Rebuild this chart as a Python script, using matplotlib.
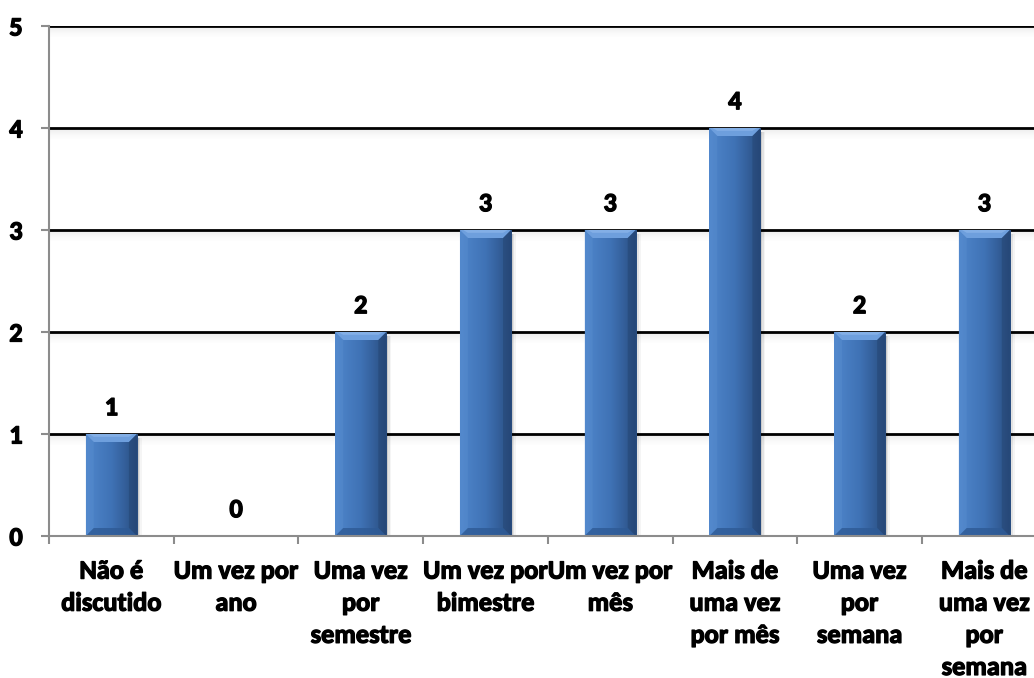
import numpy as np
import matplotlib
matplotlib.use("Agg")
import matplotlib.pyplot as plt
from matplotlib import font_manager
from matplotlib import patheffects
from matplotlib.patches import Polygon
from matplotlib.colors import to_rgb

categories = [
    "Não é\ndiscutido",
    "Um vez por\nano",
    "Uma vez\npor\nsemestre",
    "Um vez por\nbimestre",
    "Um vez por\nmês",
    "Mais de\numa vez\npor mês",
    "Uma vez\npor\nsemana",
    "Mais de\numa vez\npor\nsemana",
]
counts = [1, 0, 2, 3, 3, 4, 2, 3]
y_ticks = [0, 1, 2, 3, 4, 5]

available = {f.name for f in font_manager.fontManager.ttflist}
family = next((f for f in ["Carlito", "PT Sans Narrow", "Open Sans", "DejaVu Sans"]
               if f in available), "DejaVu Sans")
plt.rcParams["font.family"] = [family, "DejaVu Sans"]
FS = 19
heavy = [patheffects.withStroke(linewidth=0.9, foreground="black")]

W, H, DPI = 1034, 678, 100
fig = plt.figure(figsize=(W / DPI, H / DPI), dpi=DPI)
left_px, top_px, bottom_px, cat_px = 49, 26, 536, 124.7
n = len(categories)
ax = fig.add_axes([left_px / W, 1 - bottom_px / H,
                   n * cat_px / W, (bottom_px - top_px) / H])
ax.set_xlim(0, n)
ax.set_ylim(0, 5)
ax.set_facecolor("white")

# gridlines with a soft shadow underneath
shade = np.linspace(0.22, 0.0, 40) ** 1.3
for yv in y_ticks[1:]:
    img = np.zeros((40, 2, 4))
    img[..., :3] = 0.45
    img[..., 3] = shade[:, None]
    ax.imshow(img, extent=(0, n, yv - 0.12, yv - 0.01), aspect="auto",
              origin="upper", zorder=1, interpolation="bilinear")
    ax.axhline(yv, color="black", lw=2.0, zorder=2)

# bars with horizontal gradient and bevelled edges
bar_w = 0.41
bx = np.arange(n) + 0.5
bars = ax.bar(bx, counts, width=bar_w, color="#3F72B5", zorder=3, linewidth=0)

c_left = np.array(to_rgb("#4F86CB"))
c_mid = np.array(to_rgb("#3F72B5"))
c_right = np.array(to_rgb("#294D80"))
t = np.linspace(0, 1, 64)
grad = np.where(t[:, None] < 0.5,
                c_left + (c_mid - c_left) * (t[:, None] / 0.5),
                c_mid + (c_right - c_mid) * ((t[:, None] - 0.5) / 0.5))
grad_img = grad[None, :, :]

bev_x = 8 / cat_px
bev_y = 8 / 102
for rect, v in zip(bars, counts):
    if v <= 0:
        continue
    x0 = rect.get_x()
    x1 = x0 + rect.get_width()
    # drop shadow to the right
    for k, a in enumerate([0.10, 0.07, 0.04]):
        dx = (k + 1) * 1.6 / cat_px
        ax.add_patch(Polygon([[x0 + dx, 0], [x1 + dx, 0], [x1 + dx, v - 0.04],
                              [x0 + dx, v - 0.04]], closed=True,
                             facecolor="black", alpha=a, lw=0, zorder=2.5))
    im = ax.imshow(grad_img, extent=(x0, x1, 0, v), aspect="auto",
                   zorder=3.1, interpolation="bilinear")
    im.set_clip_path(rect)
    # top bevel
    ax.add_patch(Polygon([[x0, v], [x1, v], [x1 - bev_x, v - bev_y], [x0 + bev_x, v - bev_y]],
                         closed=True, facecolor="#6E9FDD", lw=0, zorder=3.2))
    ax.add_patch(Polygon([[x0 + bev_x * 0.4, v], [x1 - bev_x * 0.4, v],
                          [x1 - bev_x, v - bev_y * 0.35], [x0 + bev_x, v - bev_y * 0.35]],
                         closed=True, facecolor="#8DB6EA", lw=0, zorder=3.25, alpha=0.7))
    # right bevel
    ax.add_patch(Polygon([[x1, v], [x1, 0], [x1 - bev_x, bev_y], [x1 - bev_x, v - bev_y]],
                         closed=True, facecolor="#223F69", lw=0, zorder=3.2, alpha=0.4))
    # left bevel
    ax.add_patch(Polygon([[x0, v], [x0, 0], [x0 + bev_x, bev_y], [x0 + bev_x, v - bev_y]],
                         closed=True, facecolor="#5C90D2", lw=0, zorder=3.2, alpha=0.35))
    # bottom bevel
    ax.add_patch(Polygon([[x0, 0], [x1, 0], [x1 - bev_x, bev_y], [x0 + bev_x, bev_y]],
                         closed=True, facecolor="#2E5A95", lw=0, zorder=3.2, alpha=0.8))

# value labels
for xv, v in zip(bx, counts):
    ax.annotate(str(v), (xv, v), xytext=(0, 13.5), textcoords="offset points",
                ha="center", va="baseline", fontsize=FS, fontweight="bold", zorder=5,
                path_effects=heavy)

# axes and ticks
for s in ["top", "right"]:
    ax.spines[s].set_visible(False)
for s in ["left", "bottom"]:
    ax.spines[s].set_color("#8C8C8C")
    ax.spines[s].set_linewidth(1.5)
    ax.spines[s].set_zorder(4)
ax.set_yticks(y_ticks)
ax.set_yticklabels([str(v) for v in y_ticks], fontsize=FS, fontweight="bold",
                   path_effects=heavy)
ax.set_xticks(np.arange(n + 1))
ax.set_xticklabels([])
ax.set_xticks(bx, minor=True)
ax.set_xticklabels(categories, minor=True, fontsize=FS, fontweight="bold",
                   linespacing=1.48, va="top", path_effects=heavy)
ax.tick_params(axis="y", length=6, width=1.5, color="#8C8C8C", pad=13, direction="out")
ax.tick_params(axis="x", which="major", length=6, width=1.5, color="#8C8C8C",
               direction="out")
ax.tick_params(axis="x", which="minor", length=0, pad=17)

fig.savefig("out.png", dpi=DPI, facecolor="white")
